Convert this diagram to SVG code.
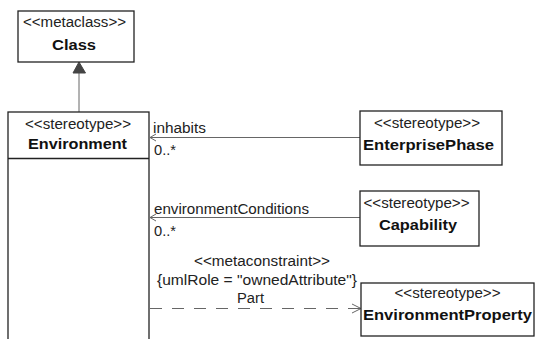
<svg xmlns="http://www.w3.org/2000/svg" width="535" height="339" viewBox="0 0 535 339">
<style>
.box{fill:#fff;stroke:#222;stroke-width:1.3}
.t{font-family:"Liberation Sans",Arial,sans-serif;font-size:14px;fill:#222}
.b{font-family:"Liberation Sans",Arial,sans-serif;font-size:14px;font-weight:bold;fill:#111}
.ln{stroke:#666;stroke-width:1;fill:none}
</style>
<rect width="535" height="339" fill="#fff"/>
<g id="connectors">
<line class="ln" x1="79" y1="72" x2="79" y2="112"/>
<polygon points="79,62 73,73 85.5,73" fill="#444" stroke="#444" stroke-width="1"/>
<line class="ln" x1="150" y1="137.5" x2="360" y2="137.5"/>
<polyline class="ln" points="156,134 150,137.5 156,141"/>
<text class="t" x="153" y="133" textLength="53" lengthAdjust="spacingAndGlyphs">inhabits</text>
<text class="t" x="154" y="155" textLength="22" lengthAdjust="spacingAndGlyphs">0..*</text>
<line class="ln" x1="150" y1="217.5" x2="360" y2="217.5"/>
<polyline class="ln" points="156,214 150,217.5 156,221"/>
<text class="t" x="154" y="213.5" textLength="155" lengthAdjust="spacingAndGlyphs">environmentConditions</text>
<text class="t" x="154" y="236" textLength="22" lengthAdjust="spacingAndGlyphs">0..*</text>
<line class="ln" x1="150" y1="308.5" x2="360" y2="308.5" stroke-dasharray="12,10"/>
<polyline class="ln" points="352,304 361,308.5 352,313"/>
<text class="t" x="194" y="266" textLength="136" lengthAdjust="spacingAndGlyphs">&lt;&lt;metaconstraint&gt;&gt;</text>
<text class="t" x="157" y="285" textLength="200" lengthAdjust="spacingAndGlyphs">{umlRole = "ownedAttribute"}</text>
<text class="t" x="237" y="303" textLength="27" lengthAdjust="spacingAndGlyphs">Part</text>
</g>
<g id="Class">
<rect class="box" x="18" y="11" width="116" height="51"/>
<text class="t" x="23" y="27" textLength="103" lengthAdjust="spacingAndGlyphs">&lt;&lt;metaclass&gt;&gt;</text>
<text class="b" x="52" y="50" textLength="44" lengthAdjust="spacingAndGlyphs">Class</text>
</g>
<g id="Environment">
<rect class="box" x="8" y="112" width="141" height="240"/>
<line class="box" x1="8" y1="158.5" x2="149" y2="158.5"/>
<text class="t" x="25" y="129" textLength="106" lengthAdjust="spacingAndGlyphs">&lt;&lt;stereotype&gt;&gt;</text>
<text class="b" x="28" y="149" textLength="99" lengthAdjust="spacingAndGlyphs">Environment</text>
</g>
<g id="EnterprisePhase">
<rect class="box" x="360" y="111" width="142" height="54"/>
<text class="t" x="374" y="128" textLength="106" lengthAdjust="spacingAndGlyphs">&lt;&lt;stereotype&gt;&gt;</text>
<text class="b" x="363" y="150" textLength="131" lengthAdjust="spacingAndGlyphs">EnterprisePhase</text>
</g>
<g id="Capability">
<rect class="box" x="360" y="191" width="119" height="55"/>
<text class="t" x="363.5" y="208" textLength="106" lengthAdjust="spacingAndGlyphs">&lt;&lt;stereotype&gt;&gt;</text>
<text class="b" x="379" y="230" textLength="78" lengthAdjust="spacingAndGlyphs">Capability</text>
</g>
<g id="EnvironmentProperty">
<rect class="box" x="361" y="283" width="173" height="53"/>
<text class="t" x="394.5" y="298" textLength="106" lengthAdjust="spacingAndGlyphs">&lt;&lt;stereotype&gt;&gt;</text>
<text class="b" x="363" y="320" textLength="169" lengthAdjust="spacingAndGlyphs">EnvironmentProperty</text>
</g>
</svg>
